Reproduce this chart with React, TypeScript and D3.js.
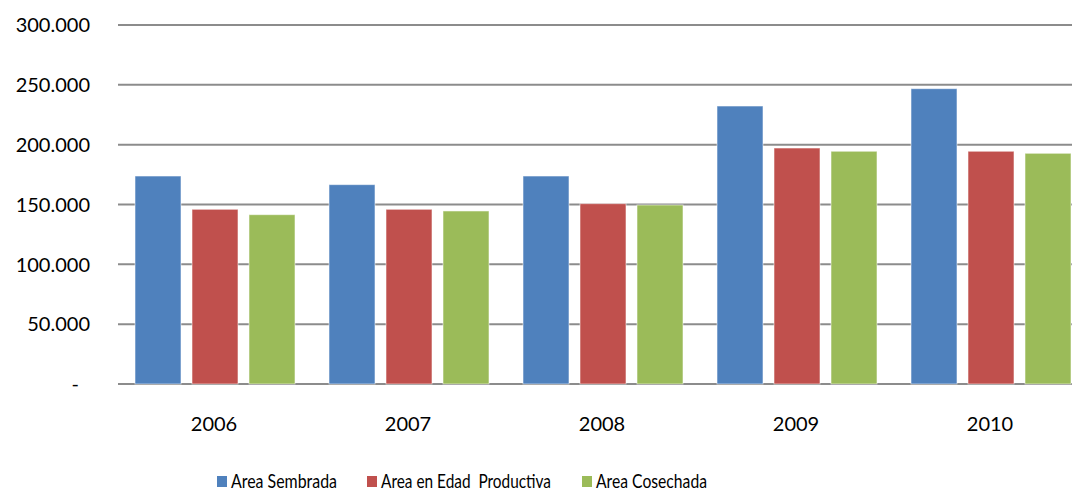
import React, { useEffect, useRef } from 'react';
import * as d3 from 'd3';

const years = ['2006', '2007', '2008', '2009', '2010'];
const seriesNames = ['Area Sembrada', 'Area en Edad  Productiva', 'Area Cosechada'];
const sembrada = [173800, 166600, 173800, 232300, 246800];
const edadProductiva = [146000, 146000, 150700, 197200, 194500];
const cosechada = [141500, 144600, 149600, 194500, 192800];
const yTicks = [0, 50000, 100000, 150000, 200000, 250000, 300000];
const colors = ['#4F81BD', '#C0504D', '#9BBB59'];

const App = () => {
    const svgRef = useRef(null);

    useEffect(() => {
        const svgEl = d3.select(svgRef.current);
        svgEl.selectAll('*').remove();

        const width = 1072;
        const height = 492;
        const margin = { top: 25, left: 118, bottom: 108 };
        const plotRight = 1088; // plot area runs a bit past the picture edge

        const svg = svgEl.attr('width', width).attr('height', height);
        const font = 'Lato, "Open Sans", sans-serif';

        const x = d3.scaleBand().domain(years).range([margin.left, plotRight]);
        const y = d3.scaleLinear().domain([0, 300000]).range([height - margin.bottom, margin.top]);

        const fmt = (v: number) => (v === 0 ? '-' : d3.format(',')(v).replace(/,/g, '.'));

        // grid lines
        svg.append('g')
            .selectAll('line')
            .data(yTicks)
            .enter().append('line')
            .attr('x1', margin.left)
            .attr('x2', plotRight)
            .attr('y1', d => y(d))
            .attr('y2', d => y(d))
            .attr('stroke', '#8c8c8c')
            .attr('stroke-width', 2);

        // y labels
        svg.append('g')
            .selectAll('text')
            .data(yTicks)
            .enter().append('text')
            .attr('x', d => (d === 0 ? 79 : 90))
            .attr('y', d => y(d))
            .attr('dy', '0.36em')
            .attr('text-anchor', 'end')
            .attr('font-family', font)
            .attr('font-size', 20)
            .attr('fill', '#000')
            .text(fmt);

        // bars
        const data = [sembrada, edadProductiva, cosechada];
        const barW = 46;
        const step = 57;
        data.forEach((vals, si) => {
            svg.append('g')
                .selectAll('rect')
                .data(vals)
                .enter().append('rect')
                .attr('x', (d, i) => x(years[i])! + 17 + si * step)
                .attr('y', d => y(d))
                .attr('width', barW)
                .attr('height', d => y(0) - y(d))
                .attr('fill', colors[si])
                .attr('stroke', 'rgba(255,255,255,0.55)')
                .attr('stroke-width', 1);
        });

        // x labels
        svg.append('g')
            .selectAll('text')
            .data(years)
            .enter().append('text')
            .attr('x', d => x(d)! + x.bandwidth() / 2 - 1)
            .attr('y', 431)
            .attr('text-anchor', 'middle')
            .attr('font-family', font)
            .attr('font-size', 20)
            .attr('fill', '#000')
            .text(d => d);

        // legend
        const legendX = [217, 367, 582];
        const legendW = [106, 170, 111];
        const legend = svg.append('g')
            .selectAll('g')
            .data(seriesNames)
            .enter().append('g')
            .attr('transform', (d, i) => `translate(${legendX[i]},476)`);

        legend.append('rect')
            .attr('width', 10)
            .attr('height', 11)
            .attr('fill', (d, i) => colors[i]);

        legend.append('text')
            .attr('x', 14)
            .attr('y', 12)
            .attr('font-family', font)
            .attr('font-size', 19)
            .attr('textLength', (d, i) => legendW[i])
            .attr('lengthAdjust', 'spacingAndGlyphs')
            .attr('fill', '#000')
            .style('white-space', 'pre')
            .text(d => d);
    }, []);

    return <svg ref={svgRef} style={{ display: 'block', position: 'absolute', left: 0, top: 0 }}></svg>;
};

export default App;
